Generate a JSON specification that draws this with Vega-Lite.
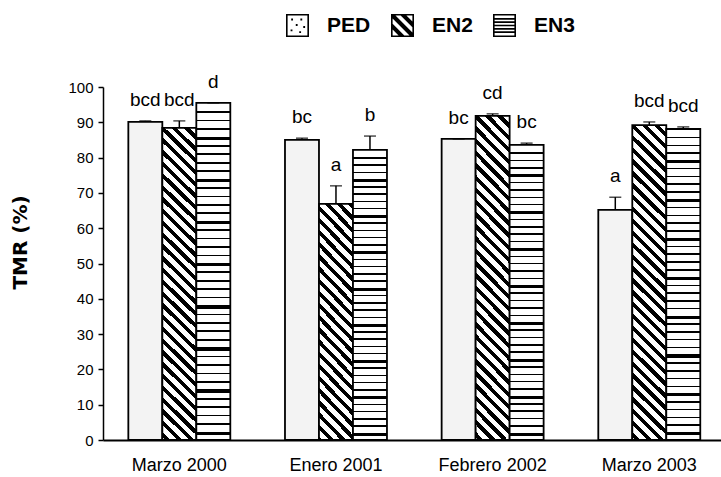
{
  "$schema": "https://vega.github.io/schema/vega-lite/v6.json",
  "width": 618,
  "height": 353,
  "autosize": "none",
  "padding": {"left": 103, "top": 87, "right": 0, "bottom": 37},
  "background": "white",
  "config": {
    "view": {"stroke": null},
    "font": "Liberation Sans",
    "axis": {"grid": false, "labelColor": "black", "domainColor": "black", "tickColor": "black", "labelFont": "Liberation Sans"},
    "axisY": {"tickSize": 5, "tickWidth": 1.5, "domainWidth": 1.5, "labelFontSize": 15, "labelPadding": 5, "labelOverlap": false, "titleFont": "DejaVu Sans", "titleFontSize": 20, "titleFontWeight": "bold", "titleColor": "black", "titlePadding": 37, "titleY": 155}
  },
  "data": {
    "values": [
      {"p": "Marzo 2000", "s": "PED", "v": 90.1, "hi": 90.4, "lbl": "bcd"},
      {"p": "Marzo 2000", "s": "EN2", "v": 88.4, "hi": 90.4, "lbl": "bcd"},
      {"p": "Marzo 2000", "s": "EN3", "v": 95.5, "hi": 95.5, "lbl": "d"},
      {"p": "Enero 2001", "s": "PED", "v": 85.0, "hi": 85.5, "lbl": "bc"},
      {"p": "Enero 2001", "s": "EN2", "v": 66.9, "hi": 72.0, "lbl": "a"},
      {"p": "Enero 2001", "s": "EN3", "v": 82.2, "hi": 86.1, "lbl": "b"},
      {"p": "Febrero 2002", "s": "PED", "v": 85.3, "hi": 85.3, "lbl": "bc"},
      {"p": "Febrero 2002", "s": "EN2", "v": 91.8, "hi": 92.4, "lbl": "cd"},
      {"p": "Febrero 2002", "s": "EN3", "v": 83.6, "hi": 84.1, "lbl": "bc"},
      {"p": "Marzo 2003", "s": "PED", "v": 65.2, "hi": 68.8, "lbl": "a"},
      {"p": "Marzo 2003", "s": "EN2", "v": 89.2, "hi": 90.1, "lbl": "bcd"},
      {"p": "Marzo 2003", "s": "EN3", "v": 88.1, "hi": 88.7, "lbl": "bcd"}
    ]
  },
  "encoding": {
    "x": {
      "field": "p", "type": "nominal",
      "sort": ["Marzo 2000", "Enero 2001", "Febrero 2002", "Marzo 2003"],
      "scale": {"paddingInner": 0.349, "paddingOuter": 0.147, "align": 0.55},
      "axis": {"title": null, "labelAngle": 0, "ticks": false, "labelFontSize": 18, "labelPadding": 16, "domainWidth": 2}
    },
    "xOffset": {"field": "s", "type": "nominal", "sort": ["PED", "EN2", "EN3"], "scale": {"paddingInner": 0, "paddingOuter": 0}}
  },
  "layer": [
    {
      "mark": {"type": "bar", "strokeWidth": 1.8, "stroke": "black"},
      "encoding": {
        "y": {
          "field": "v", "type": "quantitative",
          "scale": {"domain": [0, 100], "nice": false},
          "axis": {"values": [0, 10, 20, 30, 40, 50, 60, 70, 80, 90, 100], "title": "TMR  (%)"}
        },
        "fill": {
          "condition": [
            {"test": "datum.s === 'EN2' && datum.v < 75", "value": {"gradient": "linear", "x1": 0.2, "y1": -0.12, "x2": 0.032, "y2": 1.0, "stops": [
              {"offset": 0, "color": "#000"}, {"offset": 0.02, "color": "#000"}, {"offset": 0.02, "color": "#fff"}, {"offset": 0.045, "color": "#fff"},
              {"offset": 0.045, "color": "#000"}, {"offset": 0.065, "color": "#000"}, {"offset": 0.065, "color": "#fff"}, {"offset": 0.09, "color": "#fff"},
              {"offset": 0.09, "color": "#000"}, {"offset": 0.11, "color": "#000"}, {"offset": 0.11, "color": "#fff"}, {"offset": 0.135, "color": "#fff"},
              {"offset": 0.135, "color": "#000"}, {"offset": 0.155, "color": "#000"}, {"offset": 0.155, "color": "#fff"}, {"offset": 0.18, "color": "#fff"},
              {"offset": 0.18, "color": "#000"}, {"offset": 0.2, "color": "#000"}, {"offset": 0.2, "color": "#fff"}, {"offset": 0.225, "color": "#fff"},
              {"offset": 0.225, "color": "#000"}, {"offset": 0.245, "color": "#000"}, {"offset": 0.245, "color": "#fff"}, {"offset": 0.27, "color": "#fff"},
              {"offset": 0.27, "color": "#000"}, {"offset": 0.29, "color": "#000"}, {"offset": 0.29, "color": "#fff"}, {"offset": 0.315, "color": "#fff"},
              {"offset": 0.315, "color": "#000"}, {"offset": 0.335, "color": "#000"}, {"offset": 0.335, "color": "#fff"}, {"offset": 0.36, "color": "#fff"},
              {"offset": 0.36, "color": "#000"}, {"offset": 0.38, "color": "#000"}, {"offset": 0.38, "color": "#fff"}, {"offset": 0.405, "color": "#fff"},
              {"offset": 0.405, "color": "#000"}, {"offset": 0.425, "color": "#000"}, {"offset": 0.425, "color": "#fff"}, {"offset": 0.45, "color": "#fff"},
              {"offset": 0.45, "color": "#000"}, {"offset": 0.47, "color": "#000"}, {"offset": 0.47, "color": "#fff"}, {"offset": 0.495, "color": "#fff"},
              {"offset": 0.495, "color": "#000"}, {"offset": 0.515, "color": "#000"}, {"offset": 0.515, "color": "#fff"}, {"offset": 0.54, "color": "#fff"},
              {"offset": 0.54, "color": "#000"}, {"offset": 0.56, "color": "#000"}, {"offset": 0.56, "color": "#fff"}, {"offset": 0.585, "color": "#fff"},
              {"offset": 0.585, "color": "#000"}, {"offset": 0.605, "color": "#000"}, {"offset": 0.605, "color": "#fff"}, {"offset": 0.63, "color": "#fff"},
              {"offset": 0.63, "color": "#000"}, {"offset": 0.65, "color": "#000"}, {"offset": 0.65, "color": "#fff"}, {"offset": 0.675, "color": "#fff"},
              {"offset": 0.675, "color": "#000"}, {"offset": 0.695, "color": "#000"}, {"offset": 0.695, "color": "#fff"}, {"offset": 0.72, "color": "#fff"},
              {"offset": 0.72, "color": "#000"}, {"offset": 0.74, "color": "#000"}, {"offset": 0.74, "color": "#fff"}, {"offset": 0.765, "color": "#fff"},
              {"offset": 0.765, "color": "#000"}, {"offset": 0.785, "color": "#000"}, {"offset": 0.785, "color": "#fff"}, {"offset": 0.81, "color": "#fff"},
              {"offset": 0.81, "color": "#000"}, {"offset": 0.83, "color": "#000"}, {"offset": 0.83, "color": "#fff"}, {"offset": 0.855, "color": "#fff"},
              {"offset": 0.855, "color": "#000"}, {"offset": 0.875, "color": "#000"}, {"offset": 0.875, "color": "#fff"}, {"offset": 0.9, "color": "#fff"},
              {"offset": 0.9, "color": "#000"}, {"offset": 0.92, "color": "#000"}, {"offset": 0.92, "color": "#fff"}, {"offset": 0.945, "color": "#fff"},
              {"offset": 0.945, "color": "#000"}, {"offset": 0.965, "color": "#000"}, {"offset": 0.965, "color": "#fff"}, {"offset": 0.99, "color": "#fff"},
              {"offset": 0.99, "color": "#000"}, {"offset": 1, "color": "#000"}]}},
            {"test": "datum.s === 'EN2'", "value": {"gradient": "linear", "x1": 0.2, "y1": -0.1, "x2": 0.08, "y2": 1.02, "stops": [
              {"offset": 0, "color": "#000"}, {"offset": 0.015, "color": "#000"}, {"offset": 0.015, "color": "#fff"}, {"offset": 0.033, "color": "#fff"},
              {"offset": 0.033, "color": "#000"}, {"offset": 0.048, "color": "#000"}, {"offset": 0.048, "color": "#fff"}, {"offset": 0.067, "color": "#fff"},
              {"offset": 0.067, "color": "#000"}, {"offset": 0.082, "color": "#000"}, {"offset": 0.082, "color": "#fff"}, {"offset": 0.1, "color": "#fff"},
              {"offset": 0.1, "color": "#000"}, {"offset": 0.115, "color": "#000"}, {"offset": 0.115, "color": "#fff"}, {"offset": 0.133, "color": "#fff"},
              {"offset": 0.133, "color": "#000"}, {"offset": 0.148, "color": "#000"}, {"offset": 0.148, "color": "#fff"}, {"offset": 0.167, "color": "#fff"},
              {"offset": 0.167, "color": "#000"}, {"offset": 0.182, "color": "#000"}, {"offset": 0.182, "color": "#fff"}, {"offset": 0.2, "color": "#fff"},
              {"offset": 0.2, "color": "#000"}, {"offset": 0.215, "color": "#000"}, {"offset": 0.215, "color": "#fff"}, {"offset": 0.233, "color": "#fff"},
              {"offset": 0.233, "color": "#000"}, {"offset": 0.248, "color": "#000"}, {"offset": 0.248, "color": "#fff"}, {"offset": 0.267, "color": "#fff"},
              {"offset": 0.267, "color": "#000"}, {"offset": 0.282, "color": "#000"}, {"offset": 0.282, "color": "#fff"}, {"offset": 0.3, "color": "#fff"},
              {"offset": 0.3, "color": "#000"}, {"offset": 0.315, "color": "#000"}, {"offset": 0.315, "color": "#fff"}, {"offset": 0.333, "color": "#fff"},
              {"offset": 0.333, "color": "#000"}, {"offset": 0.348, "color": "#000"}, {"offset": 0.348, "color": "#fff"}, {"offset": 0.367, "color": "#fff"},
              {"offset": 0.367, "color": "#000"}, {"offset": 0.382, "color": "#000"}, {"offset": 0.382, "color": "#fff"}, {"offset": 0.4, "color": "#fff"},
              {"offset": 0.4, "color": "#000"}, {"offset": 0.415, "color": "#000"}, {"offset": 0.415, "color": "#fff"}, {"offset": 0.433, "color": "#fff"},
              {"offset": 0.433, "color": "#000"}, {"offset": 0.448, "color": "#000"}, {"offset": 0.448, "color": "#fff"}, {"offset": 0.467, "color": "#fff"},
              {"offset": 0.467, "color": "#000"}, {"offset": 0.482, "color": "#000"}, {"offset": 0.482, "color": "#fff"}, {"offset": 0.5, "color": "#fff"},
              {"offset": 0.5, "color": "#000"}, {"offset": 0.515, "color": "#000"}, {"offset": 0.515, "color": "#fff"}, {"offset": 0.533, "color": "#fff"},
              {"offset": 0.533, "color": "#000"}, {"offset": 0.548, "color": "#000"}, {"offset": 0.548, "color": "#fff"}, {"offset": 0.567, "color": "#fff"},
              {"offset": 0.567, "color": "#000"}, {"offset": 0.582, "color": "#000"}, {"offset": 0.582, "color": "#fff"}, {"offset": 0.6, "color": "#fff"},
              {"offset": 0.6, "color": "#000"}, {"offset": 0.615, "color": "#000"}, {"offset": 0.615, "color": "#fff"}, {"offset": 0.633, "color": "#fff"},
              {"offset": 0.633, "color": "#000"}, {"offset": 0.648, "color": "#000"}, {"offset": 0.648, "color": "#fff"}, {"offset": 0.667, "color": "#fff"},
              {"offset": 0.667, "color": "#000"}, {"offset": 0.682, "color": "#000"}, {"offset": 0.682, "color": "#fff"}, {"offset": 0.7, "color": "#fff"},
              {"offset": 0.7, "color": "#000"}, {"offset": 0.715, "color": "#000"}, {"offset": 0.715, "color": "#fff"}, {"offset": 0.733, "color": "#fff"},
              {"offset": 0.733, "color": "#000"}, {"offset": 0.748, "color": "#000"}, {"offset": 0.748, "color": "#fff"}, {"offset": 0.767, "color": "#fff"},
              {"offset": 0.767, "color": "#000"}, {"offset": 0.782, "color": "#000"}, {"offset": 0.782, "color": "#fff"}, {"offset": 0.8, "color": "#fff"},
              {"offset": 0.8, "color": "#000"}, {"offset": 0.815, "color": "#000"}, {"offset": 0.815, "color": "#fff"}, {"offset": 0.833, "color": "#fff"},
              {"offset": 0.833, "color": "#000"}, {"offset": 0.848, "color": "#000"}, {"offset": 0.848, "color": "#fff"}, {"offset": 0.867, "color": "#fff"},
              {"offset": 0.867, "color": "#000"}, {"offset": 0.882, "color": "#000"}, {"offset": 0.882, "color": "#fff"}, {"offset": 0.9, "color": "#fff"},
              {"offset": 0.9, "color": "#000"}, {"offset": 0.915, "color": "#000"}, {"offset": 0.915, "color": "#fff"}, {"offset": 0.933, "color": "#fff"},
              {"offset": 0.933, "color": "#000"}, {"offset": 0.948, "color": "#000"}, {"offset": 0.948, "color": "#fff"}, {"offset": 0.967, "color": "#fff"},
              {"offset": 0.967, "color": "#000"}, {"offset": 0.982, "color": "#000"}, {"offset": 0.982, "color": "#fff"}, {"offset": 1, "color": "#fff"}]}},
            {"test": "datum.s === 'EN3'", "value": {"gradient": "linear", "x1": 0.5, "y1": 0, "x2": 0.5, "y2": 1, "stops": [
              {"offset": 0.025, "color": "#fff"}, {"offset": 0.025, "color": "#000"}, {"offset": 0.03, "color": "#000"}, {"offset": 0.03, "color": "#fff"},
              {"offset": 0.05, "color": "#fff"}, {"offset": 0.05, "color": "#000"}, {"offset": 0.055, "color": "#000"}, {"offset": 0.055, "color": "#fff"},
              {"offset": 0.075, "color": "#fff"}, {"offset": 0.075, "color": "#000"}, {"offset": 0.08, "color": "#000"}, {"offset": 0.08, "color": "#fff"},
              {"offset": 0.1, "color": "#fff"}, {"offset": 0.1, "color": "#000"}, {"offset": 0.11, "color": "#000"}, {"offset": 0.11, "color": "#fff"},
              {"offset": 0.125, "color": "#fff"}, {"offset": 0.125, "color": "#000"}, {"offset": 0.13, "color": "#000"}, {"offset": 0.13, "color": "#fff"},
              {"offset": 0.15, "color": "#fff"}, {"offset": 0.15, "color": "#000"}, {"offset": 0.155, "color": "#000"}, {"offset": 0.155, "color": "#fff"},
              {"offset": 0.175, "color": "#fff"}, {"offset": 0.175, "color": "#000"}, {"offset": 0.18, "color": "#000"}, {"offset": 0.18, "color": "#fff"},
              {"offset": 0.2, "color": "#fff"}, {"offset": 0.2, "color": "#000"}, {"offset": 0.205, "color": "#000"}, {"offset": 0.205, "color": "#fff"},
              {"offset": 0.225, "color": "#fff"}, {"offset": 0.225, "color": "#000"}, {"offset": 0.235, "color": "#000"}, {"offset": 0.235, "color": "#fff"},
              {"offset": 0.25, "color": "#fff"}, {"offset": 0.25, "color": "#000"}, {"offset": 0.255, "color": "#000"}, {"offset": 0.255, "color": "#fff"},
              {"offset": 0.275, "color": "#fff"}, {"offset": 0.275, "color": "#000"}, {"offset": 0.28, "color": "#000"}, {"offset": 0.28, "color": "#fff"},
              {"offset": 0.3, "color": "#fff"}, {"offset": 0.3, "color": "#000"}, {"offset": 0.305, "color": "#000"}, {"offset": 0.305, "color": "#fff"},
              {"offset": 0.325, "color": "#fff"}, {"offset": 0.325, "color": "#000"}, {"offset": 0.33, "color": "#000"}, {"offset": 0.33, "color": "#fff"},
              {"offset": 0.35, "color": "#fff"}, {"offset": 0.35, "color": "#000"}, {"offset": 0.36, "color": "#000"}, {"offset": 0.36, "color": "#fff"},
              {"offset": 0.375, "color": "#fff"}, {"offset": 0.375, "color": "#000"}, {"offset": 0.38, "color": "#000"}, {"offset": 0.38, "color": "#fff"},
              {"offset": 0.4, "color": "#fff"}, {"offset": 0.4, "color": "#000"}, {"offset": 0.405, "color": "#000"}, {"offset": 0.405, "color": "#fff"},
              {"offset": 0.425, "color": "#fff"}, {"offset": 0.425, "color": "#000"}, {"offset": 0.43, "color": "#000"}, {"offset": 0.43, "color": "#fff"},
              {"offset": 0.45, "color": "#fff"}, {"offset": 0.45, "color": "#000"}, {"offset": 0.455, "color": "#000"}, {"offset": 0.455, "color": "#fff"},
              {"offset": 0.475, "color": "#fff"}, {"offset": 0.475, "color": "#000"}, {"offset": 0.485, "color": "#000"}, {"offset": 0.485, "color": "#fff"},
              {"offset": 0.5, "color": "#fff"}, {"offset": 0.5, "color": "#000"}, {"offset": 0.505, "color": "#000"}, {"offset": 0.505, "color": "#fff"},
              {"offset": 0.525, "color": "#fff"}, {"offset": 0.525, "color": "#000"}, {"offset": 0.53, "color": "#000"}, {"offset": 0.53, "color": "#fff"},
              {"offset": 0.55, "color": "#fff"}, {"offset": 0.55, "color": "#000"}, {"offset": 0.555, "color": "#000"}, {"offset": 0.555, "color": "#fff"},
              {"offset": 0.575, "color": "#fff"}, {"offset": 0.575, "color": "#000"}, {"offset": 0.58, "color": "#000"}, {"offset": 0.58, "color": "#fff"},
              {"offset": 0.6, "color": "#fff"}, {"offset": 0.6, "color": "#000"}, {"offset": 0.61, "color": "#000"}, {"offset": 0.61, "color": "#fff"},
              {"offset": 0.625, "color": "#fff"}, {"offset": 0.625, "color": "#000"}, {"offset": 0.63, "color": "#000"}, {"offset": 0.63, "color": "#fff"},
              {"offset": 0.65, "color": "#fff"}, {"offset": 0.65, "color": "#000"}, {"offset": 0.655, "color": "#000"}, {"offset": 0.655, "color": "#fff"},
              {"offset": 0.675, "color": "#fff"}, {"offset": 0.675, "color": "#000"}, {"offset": 0.68, "color": "#000"}, {"offset": 0.68, "color": "#fff"},
              {"offset": 0.7, "color": "#fff"}, {"offset": 0.7, "color": "#000"}, {"offset": 0.705, "color": "#000"}, {"offset": 0.705, "color": "#fff"},
              {"offset": 0.725, "color": "#fff"}, {"offset": 0.725, "color": "#000"}, {"offset": 0.735, "color": "#000"}, {"offset": 0.735, "color": "#fff"},
              {"offset": 0.75, "color": "#fff"}, {"offset": 0.75, "color": "#000"}, {"offset": 0.755, "color": "#000"}, {"offset": 0.755, "color": "#fff"},
              {"offset": 0.775, "color": "#fff"}, {"offset": 0.775, "color": "#000"}, {"offset": 0.78, "color": "#000"}, {"offset": 0.78, "color": "#fff"},
              {"offset": 0.8, "color": "#fff"}, {"offset": 0.8, "color": "#000"}, {"offset": 0.805, "color": "#000"}, {"offset": 0.805, "color": "#fff"},
              {"offset": 0.825, "color": "#fff"}, {"offset": 0.825, "color": "#000"}, {"offset": 0.83, "color": "#000"}, {"offset": 0.83, "color": "#fff"},
              {"offset": 0.85, "color": "#fff"}, {"offset": 0.85, "color": "#000"}, {"offset": 0.86, "color": "#000"}, {"offset": 0.86, "color": "#fff"},
              {"offset": 0.875, "color": "#fff"}, {"offset": 0.875, "color": "#000"}, {"offset": 0.88, "color": "#000"}, {"offset": 0.88, "color": "#fff"},
              {"offset": 0.9, "color": "#fff"}, {"offset": 0.9, "color": "#000"}, {"offset": 0.905, "color": "#000"}, {"offset": 0.905, "color": "#fff"},
              {"offset": 0.925, "color": "#fff"}, {"offset": 0.925, "color": "#000"}, {"offset": 0.93, "color": "#000"}, {"offset": 0.93, "color": "#fff"},
              {"offset": 0.95, "color": "#fff"}, {"offset": 0.95, "color": "#000"}, {"offset": 0.955, "color": "#000"}, {"offset": 0.955, "color": "#fff"},
              {"offset": 0.975, "color": "#fff"}, {"offset": 0.975, "color": "#000"}, {"offset": 0.985, "color": "#000"}, {"offset": 0.985, "color": "#fff"}]}}
          ],
          "value": "#f3f3f3"
        }
      }
    },
    {
      "mark": {"type": "rule", "color": "black", "strokeWidth": 1.5},
      "encoding": {
        "y": {"field": "v", "type": "quantitative", "axis": {"values": [0, 10, 20, 30, 40, 50, 60, 70, 80, 90, 100], "title": "TMR  (%)"}},
        "y2": {"field": "hi"}
      }
    },
    {
      "mark": {"type": "tick", "color": "black", "size": 12, "thickness": 1.5},
      "encoding": {
        "y": {"field": "hi", "type": "quantitative", "axis": {"values": [0, 10, 20, 30, 40, 50, 60, 70, 80, 90, 100], "title": "TMR  (%)"}}
      }
    },
    {
      "mark": {"type": "text", "fontSize": 19, "font": "Liberation Sans", "color": "black", "baseline": "middle", "dy": -21},
      "encoding": {
        "y": {"field": "hi", "type": "quantitative", "axis": {"values": [0, 10, 20, 30, 40, 50, 60, 70, 80, 90, 100], "title": "TMR  (%)"}},
        "text": {"field": "lbl"}
      }
    },
    {
      "transform": [{"filter": "false"}],
      "mark": {"type": "point", "filled": true, "color": "black", "opacity": 1},
      "encoding": {
        "y": {"field": "v", "type": "quantitative", "axis": {"values": [0, 10, 20, 30, 40, 50, 60, 70, 80, 90, 100], "title": "TMR  (%)"}},
        "shape": {
          "field": "s", "type": "nominal",
          "scale": {
            "domain": ["PED", "EN2", "EN3"],
            "range": [
              "M-1,-1H1V1H-1Z M-0.86,-0.86V0.86H0.86V-0.86Z M-0.55,-0.6h0.16v0.16h-0.16Z M0.25,-0.6h0.16v0.16h-0.16Z M-0.15,-0.12h0.16v0.16h-0.16Z M0.5,0.05h0.16v0.16h-0.16Z M-0.6,0.35h0.16v0.16h-0.16Z M0.15,0.5h0.16v0.16h-0.16Z",
              "M-1,-1H1V1H-1Z M-0.86,-0.86V0.86H0.86V-0.86Z M-0.86,-0.86L-0.61,-0.86L0.86,0.61L0.86,0.86L0.61,0.86L-0.86,-0.61Z M-0.16,-0.86L0.34,-0.86L0.86,-0.34L0.86,0.16Z M-0.86,-0.16L0.16,0.86L-0.34,0.86L-0.86,0.34Z",
              "M-1,-1H1V1H-1Z M-0.86,-0.86V0.86H0.86V-0.86Z M-0.86,-0.65H0.86V-0.51H-0.86Z M-0.86,-0.36H0.86V-0.22H-0.86Z M-0.86,-0.07H0.86V0.07H-0.86Z M-0.86,0.22H0.86V0.36H-0.86Z M-0.86,0.51H0.86V0.65H-0.86Z"
            ]
          },
          "legend": {
            "orient": "none", "legendX": 183, "legendY": -73, "direction": "horizontal", "title": null,
            "symbolSize": 529, "symbolFillColor": "black", "symbolStrokeWidth": 0, "symbolOpacity": 1,
            "labelFont": "Liberation Sans", "labelFontSize": 21, "labelFontWeight": "bold", "labelColor": "black",
            "labelOffset": 18, "columnPadding": 20
          }
        }
      }
    }
  ]
}
